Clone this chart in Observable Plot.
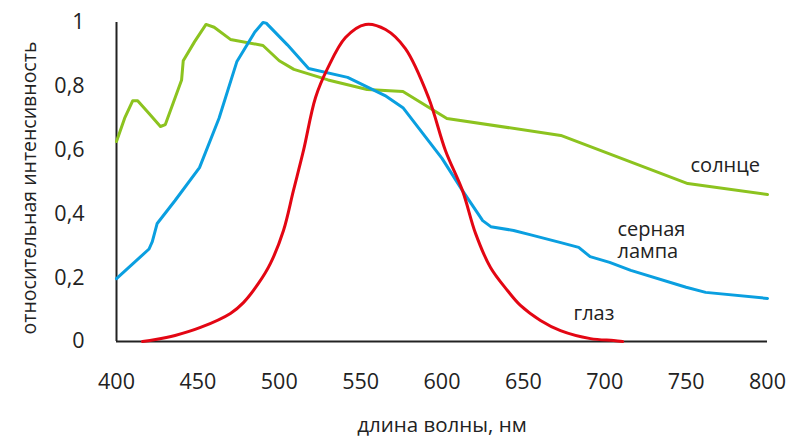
<!DOCTYPE html>
<html><head><meta charset="utf-8">
<script src="https://cdn.jsdelivr.net/npm/d3@7"></script>
<script src="https://cdn.jsdelivr.net/npm/@observablehq/plot@0.6"></script>
<style>
body{margin:0;background:#fff;}
#chart svg{font-family:"Open Sans",sans-serif;}
</style></head>
<body><div id="chart"></div>
<script>
// Солнце (sun)
const sunX = [400,405,410,413,420,427,430,435,440,441,448,455,460,470,490,500,509,530,554,576,603,673,751,800];
const sunY = [0.627,0.70,0.755,0.755,0.715,0.674,0.68,0.75,0.82,0.88,0.94,0.994,0.985,0.947,0.928,0.88,0.853,0.82,0.79,0.784,0.699,0.646,0.495,0.461];
// Серная лампа (sulfur lamp)
const lampX = [400,420,422,425,436,451,463,474,485,490,492,505,518,542,565,576,600,612.6,625,630,644,654,673,684,691,703,716,750,762,800];
const lampY = [0.197,0.29,0.313,0.37,0.442,0.545,0.70,0.878,0.97,1.0,0.998,0.93,0.856,0.828,0.771,0.733,0.574,0.473,0.379,0.36,0.348,0.335,0.31,0.295,0.266,0.248,0.223,0.17,0.154,0.135];
// Глаз (eye)
const eyeX = [416,424,436,451.6,470,478,487.2,494.6,502.6,508.7,514.9,522.3,529.7,540.7,553,565.3,577.5,591.7,602.1,612.6,620.6,629.8,640.2,648.2,660.5,672.8,691.2,705.4,711];
const eyeY = [0,0.006,0.019,0.044,0.088,0.122,0.182,0.245,0.348,0.473,0.599,0.765,0.856,0.953,0.994,0.978,0.918,0.765,0.599,0.473,0.339,0.232,0.16,0.113,0.066,0.034,0.009,0.003,0];

const xTicks = [400,450,500,550,600,650,700,750,800];
const yTicks = [0,0.2,0.4,0.6,0.8,1];

const labelText = ["солнце","серная","лампа","глаз"];
const labelX = [752.7,707.8,707.8,680.8];
const labelY = [0.552,0.351,0.283,0.088];

const xTitle = "длина волны, нм";
const yTitle = "относительная интенсивность";

const toRows = (xs, ys) => xs.map((x,i)=>({x, y: ys[i]}));
const sun = toRows(sunX, sunY), lamp = toRows(lampX, lampY), eye = toRows(eyeX, eyeY);
const labels = labelText.map((t,i)=>({t, x: labelX[i], y: labelY[i]}));

const green = "#8cc31f", blue = "#0a9fe0", red = "#e30613", ink = "#222";

const chart = Plot.plot({
  width: 791, height: 440,
  marginLeft: 116, marginRight: 24, marginTop: 22, marginBottom: 99,
  style: {fontFamily: "Open Sans", fontSize: "20px", color: ink, background: "#fff"},
  x: {domain: [400, 800]},
  y: {domain: [0, 1]},
  marks: [
    Plot.axisX({ticks: xTicks, tickSize: 0, tickPadding: 32, tickFormat: d => String(d),
      label: null, fontSize: 21.5, fill: ink}),
    Plot.axisY({ticks: yTicks, tickSize: 0, tickPadding: 32, tickFormat: d => String(d).replace(".", ","),
      label: null, fontSize: 21.5, fill: ink}),
    Plot.text([xTitle], {frameAnchor: "bottom", textAnchor: "middle", dy: 90, fontSize: 20.5, fill: ink}),
    Plot.text([yTitle], {frameAnchor: "left", textAnchor: "middle", rotate: -90, dx: -87, dy: 6, fontSize: 19.5, fill: ink}),
    Plot.ruleY([0], {stroke: ink, strokeWidth: 2}),
    Plot.ruleX([400], {stroke: ink, strokeWidth: 2}),
    Plot.line(sun, {x: "x", y: "y", stroke: green, strokeWidth: 3}),
    Plot.line(lamp, {x: "x", y: "y", stroke: blue, strokeWidth: 3}),
    Plot.line(eye, {x: "x", y: "y", stroke: red, strokeWidth: 3, curve: "catmull-rom"}),
    Plot.text(labels, {x: "x", y: "y", text: "t", textAnchor: "start", fill: ink, fontSize: 20})
  ]
});
document.getElementById("chart").appendChild(chart);
</script></body></html>
